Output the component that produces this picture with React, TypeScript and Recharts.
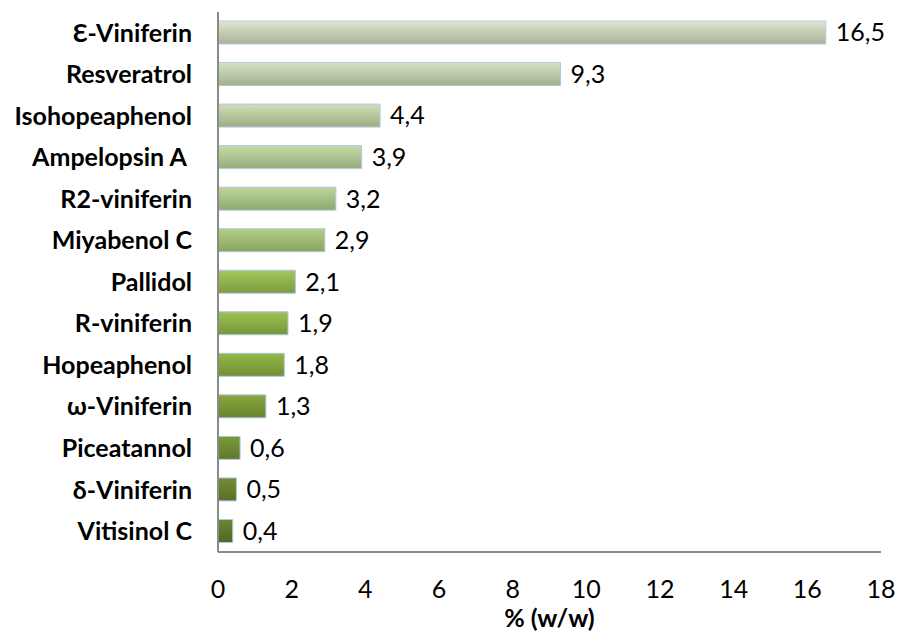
import React from "react";
import { BarChart, Bar, XAxis, YAxis, Cell, LabelList, Label } from "recharts";

// Stilbene content by compound, % (w/w)
const compounds = [
  "Ɛ-Viniferin",
  "Resveratrol",
  "Isohopeaphenol",
  "Ampelopsin A ",
  "R2-viniferin",
  "Miyabenol C",
  "Pallidol",
  "R-viniferin",
  "Hopeaphenol",
  "ω-Viniferin",
  "Piceatannol",
  "δ-Viniferin",
  "Vitisinol C",
];
const contents = [16.5, 9.3, 4.4, 3.9, 3.2, 2.9, 2.1, 1.9, 1.8, 1.3, 0.6, 0.5, 0.4];
const xTicks = [0, 2, 4, 6, 8, 10, 12, 14, 16, 18];

// Per-bar gradient stops (top, bottom), pale sage fading to olive
const barShades: [string, string][] = [
  ["#dee7d0", "#a9b396"],
  ["#d6e3c4", "#a3af8b"],
  ["#cfdfb7", "#9dae83"],
  ["#c7dba8", "#97ac79"],
  ["#bdd69b", "#8fa86d"],
  ["#b1cf84", "#87a55c"],
  ["#a4c85b", "#7c9c3c"],
  ["#9dc152", "#779637"],
  ["#94b749", "#718f33"],
  ["#87a740", "#67832d"],
  ["#7c993a", "#5f7a2a"],
  ["#728d35", "#576f27"],
  ["#6b8532", "#516824"],
];

const rows = compounds.map((name, i) => ({ name, value: contents[i] }));

const FONT = "Lato, 'Open Sans', sans-serif";
const fmt = (v: any) => Number(v).toFixed(1).replace(".", ",");

export default function App() {
  return (
    <div style={{ position: "fixed", left: 0, top: 0, width: 897, height: 639, background: "#fff" }}>
      <BarChart
        width={897}
        height={639}
        data={rows}
        layout="vertical"
        margin={{ top: 12, right: 16, left: 0, bottom: 7 }}
        style={{ fontFamily: FONT }}
      >
        <defs>
          {barShades.map(([top, bottom], i) => (
            <linearGradient key={i} id={`shade${i}`} x1="0" y1="0" x2="0" y2="1">
              <stop offset="0%" stopColor={top} />
              <stop offset="100%" stopColor={bottom} />
            </linearGradient>
          ))}
        </defs>
        <XAxis
          type="number"
          domain={[0, 18]}
          ticks={xTicks}
          height={80}
          tickLine={false}
          tickSize={0}
          tickMargin={28}
          axisLine={{ stroke: "#8a8a8a", strokeWidth: 2 }}
          tick={{ fill: "#000", fontSize: 25, fontFamily: FONT }}
          interval={0}
        >
          <Label
            value="% (w/w)"
            position="insideBottom"
            offset={5}
            style={{ fill: "#000", fontSize: 25, fontWeight: 700, fontFamily: FONT }}
          />
        </XAxis>
        <YAxis
          type="category"
          dataKey="name"
          width={218}
          tickLine={false}
          tickSize={0}
          tickMargin={26}
          interval={0}
          axisLine={{ stroke: "#8a8a8a", strokeWidth: 2 }}
          tick={{ fill: "#000", fontSize: 25, fontWeight: 700, fontFamily: FONT, style: { whiteSpace: "pre" } }}
        />
        <Bar
          dataKey="value"
          barSize={23}
          stroke="#b3c7e3"
          strokeWidth={1}
          isAnimationActive={false}
        >
          {rows.map((_, i) => (
            <Cell key={i} fill={`url(#shade${i})`} />
          ))}
          <LabelList
            dataKey="value"
            position="right"
            offset={10}
            formatter={fmt}
            style={{ fill: "#000", fontSize: 25, fontFamily: FONT }}
          />
        </Bar>
      </BarChart>
    </div>
  );
}
